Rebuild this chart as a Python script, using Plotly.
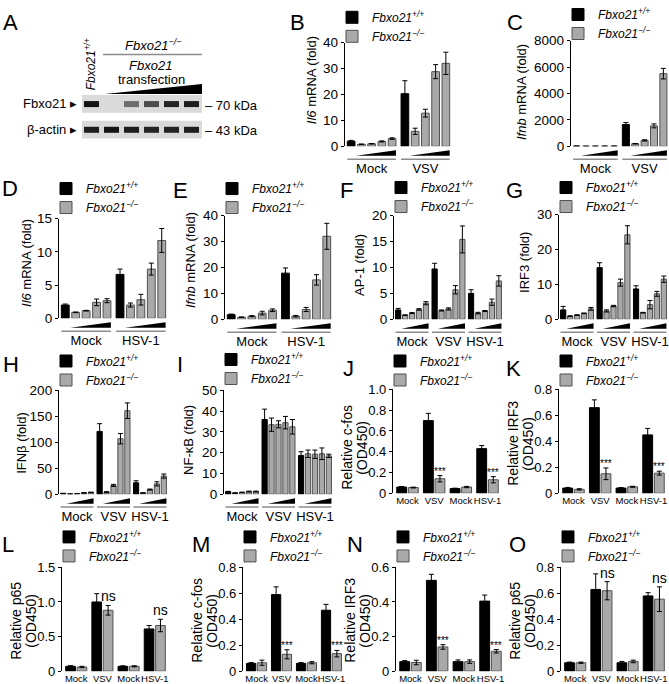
import plotly.graph_objects as go

W, H = 669, 684
FONT = "Liberation Sans, Arial, sans-serif"
BLACK = "#000000"
GREY = "#a9a9a9"
GREY_EDGE = "#505050"

# ---------------- data ----------------
groups_vsv = ["Mock", "VSV"]
groups_hsv = ["Mock", "HSV-1"]
groups_three = ["Mock", "VSV", "HSV-1"]
pair_categories = ["Mock", "VSV", "Mock", "HSV-1"]
legend_names = ["<i>Fbxo21<sup>+/+</sup></i>", "<i>Fbxo21<sup>\u2212/\u2212</sup></i>"]

# B  Il6 mRNA, VSV
il6_vsv_wt = [2.0, 20.3]
il6_vsv_wt_err = [0.3, 5.0]
il6_vsv_ko = [0.8, 1.0, 1.9, 3.0, 5.8, 12.8, 28.8, 32.0]
il6_vsv_ko_err = [0.1, 0.1, 0.2, 0.3, 1.2, 1.5, 2.7, 4.3]
il6_vsv_yticks = [0, 10, 20, 30, 40]

# C  Ifnb mRNA, VSV
ifnb_vsv_wt = [15, 1650]
ifnb_vsv_wt_err = [3, 150]
ifnb_vsv_ko = [8, 10, 12, 15, 200, 450, 1550, 5500]
ifnb_vsv_ko_err = [2, 2, 2, 3, 20, 50, 150, 400]
ifnb_vsv_yticks = [0, 2000, 4000, 6000, 8000]

# D  Il6 mRNA, HSV-1
il6_hsv_wt = [2.0, 6.6]
il6_hsv_wt_err = [0.15, 0.8]
il6_hsv_ko = [0.9, 1.15, 2.4, 2.65, 2.0, 2.8, 7.4, 11.7]
il6_hsv_ko_err = [0.05, 0.05, 0.5, 0.3, 0.3, 0.8, 0.9, 1.8]
il6_hsv_yticks = [0, 5, 10, 15]

# E  Ifnb mRNA, HSV-1
ifnb_hsv_wt = [1.8, 17.8]
ifnb_hsv_wt_err = [0.2, 2.0]
ifnb_hsv_ko = [0.8, 1.2, 2.4, 3.5, 1.2, 3.8, 15.2, 32.0]
ifnb_hsv_ko_err = [0.1, 0.2, 0.7, 0.5, 0.3, 0.8, 2.0, 5.0]
ifnb_hsv_yticks = [0, 10, 20, 30, 40]

# F  AP-1 reporter
ap1_wt = [1.8, 9.7, 5.0]
ap1_wt_err = [0.3, 1.1, 0.7]
ap1_ko = [0.8, 1.2, 1.9, 3.1, 1.7, 2.0, 5.7, 15.4, 1.2, 1.6, 3.3, 7.4]
ap1_ko_err = [0.05, 0.1, 0.15, 0.3, 0.1, 0.2, 0.8, 2.6, 0.15, 0.1, 0.6, 1.0]
ap1_yticks = [0, 5, 10, 15, 20]

# G  IRF3 reporter
irf3_wt = [2.7, 14.8, 8.7]
irf3_wt_err = [1.0, 1.4, 0.9]
irf3_ko = [0.9, 1.2, 1.7, 3.0, 2.4, 3.8, 10.5, 24.2, 1.9, 4.2, 7.3, 11.5]
irf3_ko_err = [0.1, 0.1, 0.1, 0.4, 0.3, 0.2, 1.0, 2.6, 0.1, 1.2, 0.7, 0.9]
irf3_yticks = [0, 10, 20, 30]

# H  IFNb reporter
ifnb_rep_wt = [1.5, 121, 22]
ifnb_rep_wt_err = [0.3, 15, 4]
ifnb_rep_ko = [0.5, 1.0, 2.5, 3.5, 4.0, 17, 107, 161, 2.5, 9, 20, 35]
ifnb_rep_ko_err = [0.1, 0.2, 0.5, 0.5, 1, 2, 10, 15, 0.5, 1, 4, 4]
ifnb_rep_yticks = [0, 50, 100, 150, 200]

# I  NF-kB reporter
nfkb_wt = [1.2, 36, 18.7]
nfkb_wt_err = [0.2, 5, 1.8]
nfkb_ko = [0.6, 0.9, 1.3, 1.3, 33.5, 33.7, 34.5, 32.5, 19.5, 19.3, 19.5, 18.5]
nfkb_ko_err = [0.1, 0.1, 0.2, 0.2, 3.2, 1.7, 3.0, 3.5, 1.8, 2.0, 2.8, 0.8]
nfkb_yticks = [0, 10, 20, 30, 40, 50]

# J  c-fos OD450
cfos1_wt = [0.06, 0.70, 0.045, 0.43]
cfos1_wt_err = [0.005, 0.07, 0.004, 0.03]
cfos1_ko = [0.055, 0.14, 0.06, 0.13]
cfos1_ko_err = [0.004, 0.03, 0.006, 0.03]
cfos1_marks = ["", "***", "", "***"]
cfos1_yticks = [0, 0.2, 0.4, 0.6, 0.8, 1.0]
cfos1_yticktext = ["0", "0.2", "0.4", "0.6", "0.8", "1.0"]

# K  IRF3 OD450
irf3od1_wt = [0.04, 0.66, 0.04, 0.45]
irf3od1_wt_err = [0.005, 0.06, 0.004, 0.05]
irf3od1_ko = [0.03, 0.15, 0.05, 0.155]
irf3od1_ko_err = [0.005, 0.045, 0.004, 0.015]
irf3od1_marks = ["", "***", "", "***"]
irf3od1_yticks = [0, 0.2, 0.4, 0.6, 0.8]
irf3od1_yticktext = ["0", "0.2", "0.4", "0.6", "0.8"]

# L  p65 OD450
p65a_wt = [0.07, 1.0, 0.07, 0.61]
p65a_wt_err = [0.01, 0.12, 0.008, 0.05]
p65a_ko = [0.06, 0.88, 0.07, 0.66]
p65a_ko_err = [0.01, 0.07, 0.008, 0.09]
p65a_marks = ["", "ns", "", "ns"]
p65a_yticks = [0, 0.5, 1.0, 1.5]
p65a_yticktext = ["0", "0.5", "1.0", "1.5"]

# M  c-fos OD450
cfos2_wt = [0.06, 0.59, 0.06, 0.47]
cfos2_wt_err = [0.006, 0.06, 0.006, 0.045]
cfos2_ko = [0.065, 0.13, 0.065, 0.135]
cfos2_ko_err = [0.02, 0.035, 0.008, 0.025]
cfos2_marks = ["", "***", "", "***"]
cfos2_yticks = [0, 0.2, 0.4, 0.6, 0.8]
cfos2_yticktext = ["0", "0.2", "0.4", "0.6", "0.8"]

# N  IRF3 OD450
irf3od2_wt = [0.055, 0.525, 0.055, 0.405]
irf3od2_wt_err = [0.006, 0.035, 0.01, 0.035]
irf3od2_ko = [0.05, 0.14, 0.055, 0.115]
irf3od2_ko_err = [0.013, 0.013, 0.01, 0.01]
irf3od2_marks = ["", "***", "", "***"]
irf3od2_yticks = [0, 0.2, 0.4, 0.6]
irf3od2_yticktext = ["0", "0.2", "0.4", "0.6"]

# O  p65 OD450
p65b_wt = [0.065, 0.63, 0.065, 0.58]
p65b_wt_err = [0.005, 0.12, 0.01, 0.025]
p65b_ko = [0.065, 0.62, 0.075, 0.555]
p65b_ko_err = [0.005, 0.07, 0.01, 0.095]
p65b_marks = ["", "ns", "", "ns"]
p65b_yticks = [0, 0.2, 0.4, 0.6, 0.8]
p65b_yticktext = ["0", "0.2", "0.4", "0.6", "0.8"]

# A  western blot band intensities (lanes: +/+, -/- with increasing Fbxo21)
blot_fbxo21 = [1.0, 0.0, 0.55, 0.72, 0.92, 0.95]
blot_actin = [0.95, 1.0, 0.95, 0.92, 0.92, 0.95]

# ---------------- helpers ----------------
def fx(p):
    return p / W


def fy(p):
    return 1 - p / H


def aid(k):
    return "" if k == 1 else str(k)


def tf(size):
    return dict(size=size, family=FONT, color="black")


traces = []
annotations = []
shapes = []
layout = dict(
    width=W, height=H, margin=dict(l=0, r=0, t=0, b=0),
    paper_bgcolor="white", plot_bgcolor="white", template="none",
    font=tf(12), barmode="overlay", showlegend=True,
)


def add_letter(letter, x, y):
    annotations.append(dict(text=letter, x=fx(x), y=fy(y), xref="paper", yref="paper",
                            xanchor="left", yanchor="top", showarrow=False, font=tf(22)))


def add_ytitle(text, x, y, size):
    annotations.append(dict(text=text, x=fx(x), y=fy(y), xref="paper", yref="paper",
                            xanchor="center", yanchor="middle", textangle=-90, showarrow=False,
                            font=tf(size)))


def add_axes(k, box, xr, yr, ytickvals, yticktext, xtickvals, xticktext, xfont, standoff, yfont):
    a = aid(k)
    L, R, T, Z = box
    layout["xaxis" + a] = dict(domain=[fx(L), fx(R)], range=xr, anchor="y" + a, showline=False,
                               ticks="", tickvals=xtickvals, ticktext=xticktext, tickangle=0,
                               tickfont=tf(xfont), ticklabelstandoff=standoff,
                               showgrid=False, zeroline=False, fixedrange=True)
    layout["yaxis" + a] = dict(domain=[fy(Z), fy(T)], range=yr, anchor="x" + a, showline=True,
                               linecolor="black", linewidth=1.3, ticks="outside", ticklen=3,
                               tickwidth=1.3, tickcolor="black", tickvals=ytickvals,
                               ticktext=yticktext, tickfont=tf(yfont),
                               showgrid=False, zeroline=False, fixedrange=True)


def add_legend(k, L, c1, c2):
    a = aid(k)
    top = (c1 + c2) / 2 - 9.5 - 16.5
    layout["legend" + a] = dict(x=fx(L - 13), y=fy(top), xanchor="left", yanchor="top",
                                bgcolor="rgba(0,0,0,0)", borderwidth=0,
                                font=tf(12), itemwidth=30,
                                tracegroupgap=0, traceorder="normal")


def bar(k, xs, ys, err, color, edge, name, width):
    a = aid(k)
    return go.Bar(x=xs, y=ys, width=width, name=name, xaxis="x" + a, yaxis="y" + a,
                  legend="legend" + a,
                  marker=dict(color=color, line=dict(color=edge, width=1)),
                  error_y=dict(type="data", array=err, visible=True, color="black",
                               thickness=1, width=2.5),
                  showlegend=True)


# ---------------- dose-response panels (B - I) ----------------
S = 5.25
BW = 0.75
five_panels = [
    dict(k=1, letter="B", lxy=(288, 0), box=(345, 452, 35, 140), title="<i>Il6</i> mRNA (fold)", txy=(311, 73),
         groups=groups_vsv, wt=il6_vsv_wt, wte=il6_vsv_wt_err, ko=il6_vsv_ko, koe=il6_vsv_ko_err,
         yt=il6_vsv_yticks, leg=(12.5, 29)),
    dict(k=2, letter="C", lxy=(505, 0), box=(571, 669, 33, 140), title="<i>Ifnb</i> mRNA (fold)", txy=(521, 85),
         groups=groups_vsv, wt=ifnb_vsv_wt, wte=ifnb_vsv_wt_err, ko=ifnb_vsv_ko, koe=ifnb_vsv_ko_err,
         yt=ifnb_vsv_yticks, leg=(9, 26)),
    dict(k=3, letter="D", lxy=(0, 168), box=(59, 168, 213, 314), title="<i>Il6</i> mRNA (fold)", txy=(27, 258),
         groups=groups_hsv, wt=il6_hsv_wt, wte=il6_hsv_wt_err, ko=il6_hsv_ko, koe=il6_hsv_ko_err,
         yt=il6_hsv_yticks, leg=(186, 202)),
    dict(k=4, letter="E", lxy=(171, 170), box=(225, 333, 210, 315), title="<i>Ifnb</i> mRNA (fold)", txy=(190, 255),
         groups=groups_hsv, wt=ifnb_hsv_wt, wte=ifnb_hsv_wt_err, ko=ifnb_hsv_ko, koe=ifnb_hsv_ko_err,
         yt=ifnb_hsv_yticks, leg=(186, 202)),
    dict(k=5, letter="F", lxy=(338, 170), box=(394, 503, 210, 315), title="AP-1 (fold)", txy=(360, 260),
         groups=groups_three, wt=ap1_wt, wte=ap1_wt_err, ko=ap1_ko, koe=ap1_ko_err,
         yt=ap1_yticks, leg=(185, 201)),
    dict(k=6, letter="G", lxy=(504, 170), box=(559, 668, 209, 315), title="IRF3 (fold)", txy=(525, 258),
         groups=groups_three, wt=irf3_wt, wte=irf3_wt_err, ko=irf3_ko, koe=irf3_ko_err,
         yt=irf3_yticks, leg=(185, 201)),
    dict(k=7, letter="H", lxy=(1, 346), box=(59, 168, 387, 492), title="IFN\u03b2 (fold)", txy=(22, 440),
         groups=groups_three, wt=ifnb_rep_wt, wte=ifnb_rep_wt_err, ko=ifnb_rep_ko, koe=ifnb_rep_ko_err,
         yt=ifnb_rep_yticks, leg=(361, 376)),
    dict(k=8, letter="I", lxy=(175, 346), box=(224, 333, 387, 492), title="NF-\u03baB (fold)", txy=(189, 437),
         groups=groups_three, wt=nfkb_wt, wte=nfkb_wt_err, ko=nfkb_ko, koe=nfkb_ko_err,
         yt=nfkb_yticks, leg=(359, 375)),
]

for p in five_panels:
    k = p["k"]
    a = aid(k)
    L, R, T, Z = p["box"]
    G = len(p["groups"])
    wt_x = [g * S for g in range(G)]
    ko_x = [g * S + j for g in range(G) for j in range(1, 5)]
    traces.append(bar(k, wt_x, p["wt"], p["wte"], BLACK, BLACK, legend_names[0], BW))
    traces.append(bar(k, ko_x, p["ko"], p["koe"], GREY, GREY_EDGE, legend_names[1], BW))
    ymax = p["yt"][-1]
    add_axes(k, p["box"], [-0.6, (G - 1) * S + 4 + 0.6], [0, ymax], p["yt"], [str(v) for v in p["yt"]],
             [g * S + 2 for g in range(G)], p["groups"], 13, 13, 13.5)
    add_legend(k, L, *p["leg"])
    add_letter(p["letter"], *p["lxy"])
    add_ytitle(p["title"], p["txy"][0], p["txy"][1], 13)
    dom = Z - T
    for g in range(G):
        xl = g * S + BW / 2 + 0.1
        xr_ = g * S + 4 + BW / 2
        shapes.append(dict(type="path", xref="x" + a, yref="y" + a + " domain",
                           path=f"M{xl},{-9.5 / dom} L{xr_},{-9.5 / dom} L{xr_},{-4 / dom} Z",
                           fillcolor="black", line=dict(width=0)))
        shapes.append(dict(type="line", xref="x" + a, yref="y" + a + " domain",
                           x0=g * S - BW / 2, x1=g * S + 4 + BW / 2, y0=-13 / dom, y1=-13 / dom,
                           line=dict(color="#8c8c8c", width=1.5)))

# ---------------- OD450 panels (J - O) ----------------
P = 2.3
PW = 0.85
pair_panels = [
    dict(k=9, letter="J", lxy=(341, 350), box=(393, 502, 386, 491), title=("Relative c-fos", "(OD450)"), ty=445,
         wt=cfos1_wt, wte=cfos1_wt_err, ko=cfos1_ko, koe=cfos1_ko_err, marks=cfos1_marks,
         yt=cfos1_yticks, ytt=cfos1_yticktext, leg=(361, 376)),
    dict(k=10, letter="K", lxy=(504, 350), box=(559, 668, 386, 491), title=("Relative IRF3", "(OD450)"), ty=441,
         wt=irf3od1_wt, wte=irf3od1_wt_err, ko=irf3od1_ko, koe=irf3od1_ko_err, marks=irf3od1_marks,
         yt=irf3od1_yticks, ytt=irf3od1_yticktext, leg=(361, 376)),
    dict(k=11, letter="L", lxy=(0, 528), box=(62, 169, 566, 671), title=("Relative p65", "(OD450)"), ty=620,
         wt=p65a_wt, wte=p65a_wt_err, ko=p65a_ko, koe=p65a_ko_err, marks=p65a_marks,
         yt=p65a_yticks, ytt=p65a_yticktext, leg=(538, 555)),
    dict(k=12, letter="M", lxy=(190, 528), box=(243, 345, 566, 671), title=("Relative c-fos", "(OD450)"), ty=620,
         wt=cfos2_wt, wte=cfos2_wt_err, ko=cfos2_ko, koe=cfos2_ko_err, marks=cfos2_marks,
         yt=cfos2_yticks, ytt=cfos2_yticktext, leg=(538, 555)),
    dict(k=13, letter="N", lxy=(345, 528), box=(396, 505, 566, 671), title=("Relative IRF3", "(OD450)"), ty=620,
         wt=irf3od2_wt, wte=irf3od2_wt_err, ko=irf3od2_ko, koe=irf3od2_ko_err, marks=irf3od2_marks,
         yt=irf3od2_yticks, ytt=irf3od2_yticktext, leg=(538, 555)),
    dict(k=14, letter="O", lxy=(507, 528), box=(561, 668, 566, 671), title=("Relative p65", "(OD450)"), ty=620,
         wt=p65b_wt, wte=p65b_wt_err, ko=p65b_ko, koe=p65b_ko_err, marks=p65b_marks,
         yt=p65b_yticks, ytt=p65b_yticktext, leg=(538, 555)),
]

for p in pair_panels:
    k = p["k"]
    a = aid(k)
    L, R, T, Z = p["box"]
    n = len(p["wt"])
    wt_x = [g * P for g in range(n)]
    ko_x = [g * P + 1 for g in range(n)]
    traces.append(bar(k, wt_x, p["wt"], p["wte"], BLACK, BLACK, legend_names[0], PW))
    traces.append(bar(k, ko_x, p["ko"], p["koe"], GREY, GREY_EDGE, legend_names[1], PW))
    add_axes(k, p["box"], [-0.75, (n - 1) * P + 1 + 0.75], [0, p["yt"][-1]], p["yt"], p["ytt"],
             [g * P + 0.5 for g in range(n)], pair_categories, 9.5, 0, 13)
    add_legend(k, L, *p["leg"])
    add_letter(p["letter"], *p["lxy"])
    add_ytitle(p["title"][0], L - 46, p["ty"], 14)
    add_ytitle(p["title"][1], L - 31, p["ty"], 14)
    for g in range(n):
        m = p["marks"][g]
        if m:
            annotations.append(dict(text=m, x=ko_x[g], y=p["ko"][g] + p["koe"][g], xref="x" + a, yref="y" + a,
                                    xanchor="center", yanchor="bottom", showarrow=False,
                                    yshift=-3 if m == "***" else -1,
                                    font=tf(10 if m == "***" else 14)))

# ---------------- panel A: western blot ----------------
lanes = list(range(len(blot_fbxo21)))
blot_scale = [[0, "#dadada"], [1, "#141414"]]
for k, band, (top, bot) in [(15, blot_fbxo21, (88, 106)), (16, blot_actin, (114, 132))]:
    a = aid(k)
    layout["xaxis" + a] = dict(domain=[fx(82), fx(202)], range=[-0.5, len(lanes) - 0.5], anchor="y" + a,
                               visible=False, fixedrange=True)
    layout["yaxis" + a] = dict(domain=[fy(bot), fy(top)], range=[-1.6, 1.6], anchor="x" + a,
                               visible=False, fixedrange=True)
    shapes.append(dict(type="rect", xref="x" + a + " domain", yref="y" + a + " domain", x0=0, x1=1, y0=0, y1=1,
                       fillcolor="#dadada", line=dict(width=0), layer="below"))
    traces.append(go.Heatmap(x=lanes, y=[0], z=[band], xaxis="x" + a, yaxis="y" + a, colorscale=blot_scale,
                             zmin=0, zmax=1, showscale=False, xgap=5, hoverinfo="skip"))

add_letter("A", 1, 0)
blot_text = [
    ("Fbxo21 \u25b8", 79, 97, "right", 13, 0),
    ("\u03b2-actin \u25b8", 79, 123, "right", 13, 0),
    ("\u2013 70 kDa", 203, 99, "left", 13, 0),
    ("\u2013 43 kDa", 203, 124, "left", 13, 0),
    ("<i>Fbxo21<sup>+/+</sup></i>", 90, 57, "center", 12, -90),
    ("<i>Fbxo21<sup>\u2212/\u2212</sup></i>", 153, 37, "center", 13, 0),
    ("<i>Fbxo21</i>", 150, 58, "center", 13, 0),
    ("transfection", 151, 72, "center", 13, 0),
]
for t, x, y, anc, sz, ang in blot_text:
    annotations.append(dict(text=t, x=fx(x), y=fy(y), xref="paper", yref="paper", xanchor=anc,
                            yanchor="middle", textangle=ang, showarrow=False, font=tf(sz)))
shapes.append(dict(type="line", xref="paper", yref="paper", x0=fx(103), x1=fx(202), y0=fy(47), y1=fy(47),
                   line=dict(color="#8c8c8c", width=1.5)))
shapes.append(dict(type="path", xref="paper", yref="paper",
                   path=f"M{fx(105)},{fy(87)} L{fx(202)},{fy(87)} L{fx(202)},{fy(77)} Z",
                   fillcolor="black", line=dict(width=0)))

layout["annotations"] = annotations
layout["shapes"] = shapes
fig = go.Figure(data=traces, layout=layout)
fig.write_html("out.html", config={"displayModeBar": False},
               post_script="document.body.style.margin='0';document.body.style.overflow='hidden';")
